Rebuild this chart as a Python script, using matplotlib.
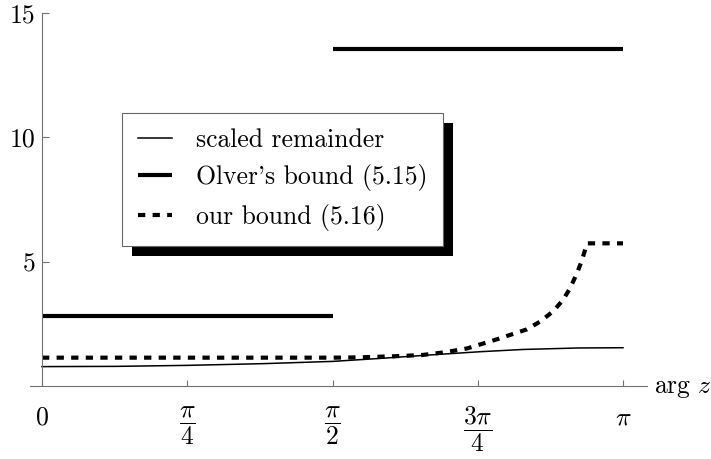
import numpy as np
import matplotlib
matplotlib.use("Agg")
import matplotlib.pyplot as plt
import matplotlib.patheffects as pe

plt.rcParams['font.family'] = 'serif'
plt.rcParams['font.serif'] = ['cmr10']
plt.rcParams['mathtext.fontset'] = 'cm'
plt.rcParams['axes.formatter.use_mathtext'] = True

# scaled remainder (thin solid)
rem_x = [0, 0.4, 0.785, 1.2, 1.571, 1.828, 2.1, 2.37, 2.6, 2.9, np.pi]
rem_y = [0.78, 0.79, 0.83, 0.90, 0.99, 1.11, 1.25, 1.38, 1.47, 1.53, 1.54]

# Olver's bound (5.15), piecewise constant, jump at pi/2
olver_x = [0, np.pi / 2, np.pi / 2, np.pi / 2, np.pi]
olver_y = [2.82, 2.82, np.nan, 13.57, 13.57]

# our bound (5.16)
our_x = [0, 1.571, 1.7, 1.828, 1.95, 2.06, 2.18, 2.298, 2.46, 2.622,
         2.693, 2.763, 2.817, 2.855, 2.893, 2.92, 2.947, np.pi]
our_y = [1.14, 1.14, 1.15, 1.18, 1.21, 1.25, 1.36, 1.51, 1.88, 2.28,
         2.59, 3.00, 3.46, 3.93, 4.54, 5.07, 5.74, 5.74]

labels = ["scaled remainder", "Olver's bound (5.15)", "our bound (5.16)"]

xticks = [0, np.pi / 4, np.pi / 2, 3 * np.pi / 4, np.pi]
xticklabels = [r'$0$', r'$\dfrac{\pi}{4}$', r'$\dfrac{\pi}{2}$',
               r'$\dfrac{3\pi}{4}$', r'$\pi$']
yticks = [5, 10, 15]
yticklabels = ['5', '10', '15']

W, H = 711, 459
fig = plt.figure(figsize=(W / 100, H / 100), dpi=100)
# y = 0 at 386 px from top, 15 at about 13 px
ax = fig.add_axes([30 / W, 73 / H, 617 / W, 372.8 / H])

l1, = ax.plot(rem_x, rem_y, color='k', lw=1.1)
l2, = ax.plot(olver_x, olver_y, color='k', lw=3.0, solid_capstyle='butt')
l3, = ax.plot(our_x, our_y, color='k', lw=3.0, linestyle=(0, (1.75, 1.75)))

ax.set_xlim(-0.0649, 3.2713)
ax.set_ylim(0, 15)

axcol = '0.45'
for s in ['top', 'right']:
    ax.spines[s].set_visible(False)
ax.spines['left'].set_position(('data', 0))
ax.spines['left'].set_color(axcol)
ax.spines['bottom'].set_color(axcol)
ax.spines['left'].set_linewidth(0.8)
ax.spines['bottom'].set_linewidth(0.8)

fs = 18.5
ax.set_xticks(xticks)
ax.set_xticklabels(xticklabels)
ax.set_yticks(yticks)
ax.set_yticklabels(yticklabels)
ax.tick_params(axis='x', direction='in', length=4.3, width=0.8, color=axcol,
               labelsize=fs, pad=14)
ax.tick_params(axis='y', direction='in', length=5, width=0.8, color=axcol,
               labelsize=fs, pad=5)

ax.text(3.309, -0.1, r'$\arg\,z$', fontsize=fs, ha='left', va='center',
        clip_on=False)

leg = ax.legend([l1, l2, l3], labels, loc='upper left',
                bbox_to_anchor=(122 / W, 1 - 112.7 / H),
                bbox_transform=fig.transFigure, borderaxespad=0,
                fancybox=False, framealpha=1, edgecolor='0.4',
                fontsize=fs, handlelength=1.32, handletextpad=0.93,
                borderpad=0.62, labelspacing=0.47)
leg.get_frame().set_linewidth(0.8)
leg.get_frame().set_path_effects([
    pe.SimplePatchShadow(offset=(7.2, -7.2), shadow_rgbFace='k', alpha=1.0),
    pe.Normal()])

fig.savefig('out.png', dpi=100)
